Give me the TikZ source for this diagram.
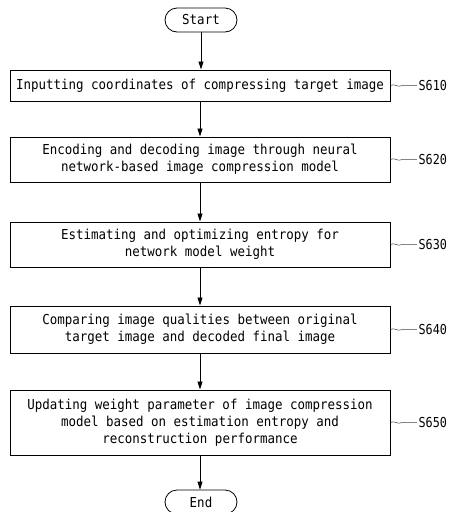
\documentclass[tikz,border=0pt]{standalone}
\usepackage{fontspec}
\newfontfamily\flowfont[FakeStretch=0.91]{DejaVu Sans Mono}
\newfontfamily\tagfont[FakeStretch=0.86]{DejaVu Sans Mono}
\usetikzlibrary{arrows.meta}

\begin{document}
\begin{tikzpicture}[x=1pt,y=-1pt,
  every node/.style={font={\flowfont\fontsize{13.7pt}{17pt}\selectfont}},
  stepbox/.style={draw, line width=0.9pt, minimum width=380pt, align=center, inner sep=0pt},
  term/.style={draw, line width=0.8pt, rounded corners=12pt, minimum width=72pt, minimum height=24pt, inner sep=0pt},
  flow/.style={-{Triangle[length=8pt,width=5pt]}, line width=0.8pt},
  leader/.style={line width=0.5pt, draw=black!75},
  tag/.style={anchor=west, inner sep=0pt, font={\tagfont\fontsize{13.7pt}{17pt}\selectfont}}]

\useasboundingbox (0,0) rectangle (449,512);

% terminals
\node[term] (start) at (201,20) {Start};
\node[term] (end) at (201,502) {End};

% process steps
\node[stepbox, minimum height=31pt] (b1) at (200,85.5)
  {Inputting coordinates of compressing target image};
\node[stepbox, minimum height=45pt] (b2) at (200,159.5)
  {Encoding and decoding image through neural\\network-based image compression model};
\node[stepbox, minimum height=45pt] (b3) at (200,244.5)
  {Estimating and optimizing entropy for\\network model weight};
\node[stepbox, minimum height=47pt] (b4) at (200,329.5)
  {Comparing image qualities between original\\target image and decoded final image};
\node[stepbox, minimum height=65pt] (b5) at (200,422.5)
  {Updating weight parameter of image compression\\model based on estimation entropy and\\reconstruction performance};

% flow arrows
\draw[flow] (start.south) -- (start.south |- b1.north);
\draw[flow] (b1.south -| 200,0) -- (b2.north -| 200,0);
\draw[flow] (b2.south -| 200,0) -- (b3.north -| 200,0);
\draw[flow] (b3.south -| 200,0) -- (b4.north -| 200,0);
\draw[flow] (b4.south -| 200,0) -- (b5.north -| 200,0);
\draw[flow] (b5.south -| 200,0) -- (end.north -| 200,0);

% step labels with wavy leaders
\foreach \b/\t in {b1/S610, b2/S620, b3/S630, b4/S640, b5/S650} {
  \node[tag] (\b tag) at ([xshift=28pt]\b.east) {\t};
  \coordinate (\b w) at ([xshift=12pt]\b.east);
  \draw[leader] (\b.east) .. controls +(4pt,2.5pt) and +(-5pt,-2.5pt) .. (\b w) -- ([xshift=-1.5pt]\b tag.west);
}
\end{tikzpicture}
\end{document}
